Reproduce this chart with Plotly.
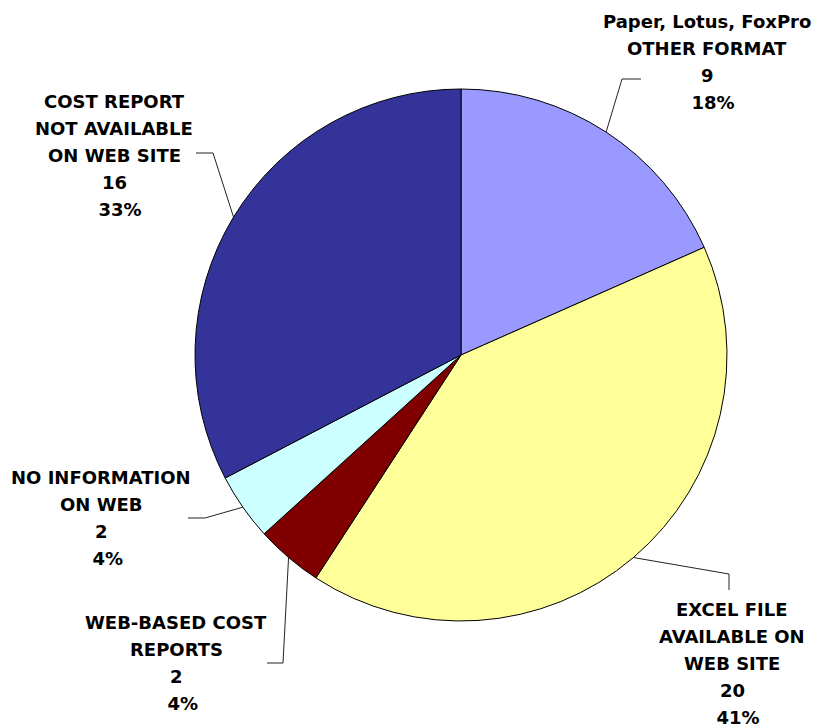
import math
import plotly.graph_objects as go

# ---- data ----
categories = ["Paper, Lotus, FoxPro\nOTHER FORMAT", "EXCEL FILE\nAVAILABLE ON\nWEB SITE",
              "WEB-BASED COST\nREPORTS", "NO INFORMATION\nON WEB",
              "COST REPORT\nNOT AVAILABLE\nON WEB SITE"]
values = [9, 20, 2, 2, 16]
colors = ["#9999FF", "#FFFF99", "#800000", "#CCFFFF", "#333399"]

# ---- layout constants (pixels) ----
W, H = 819, 727
CX, CY, R = 461, 355, 266
def px(x): return x / W
def py(y): return 1 - y / H

# label placement: (center x, first line y), leader elbow & end points
label_pos = [(707, 21), (732, 609), (176, 622), (101, 477), (114, 101)]
leader = [[(622, 79), (641, 79)],
          [(729, 574), (729, 590)],
          [(283, 663), (267, 663)],
          [(205, 518), (188, 518)],
          [(213, 153), (196, 153)]]
LINE_H = 27.2

fig = go.Figure(go.Pie(
    values=values, labels=[c.replace("\n", " ") for c in categories],
    marker=dict(colors=colors, line=dict(color="#000000", width=1)),
    sort=False, direction="clockwise", rotation=0,
    textinfo="none", hoverinfo="label+value+percent",
    domain=dict(x=[px(CX - R), px(CX + R)], y=[py(CY + R), py(CY - R)]),
    showlegend=False,
))

total = sum(values)
cum = 0
annotations = []
shapes = []
for i, v in enumerate(values):
    mid = (cum + v / 2) / total * 2 * math.pi
    cum += v
    ex, ey = CX + R * math.sin(mid), CY - R * math.cos(mid)
    pts = [(ex, ey)] + leader[i]
    path = "M " + " L ".join(f"{px(x)},{py(y)}" for x, y in pts)
    shapes.append(dict(type="path", xref="paper", yref="paper", path=path,
                       line=dict(color="#222222", width=1)))
    pct = round(v / total * 100)
    lines = categories[i].split("\n") + [str(v), f"\u00a0\u00a0{pct}%"]
    lx, ly = label_pos[i]
    for j, t in enumerate(lines):
        annotations.append(dict(
            x=px(lx), y=py(ly + j * LINE_H), xref="paper", yref="paper",
            text=f"<b>{t}</b>", showarrow=False, xanchor="center", yanchor="middle",
            font=dict(family="DejaVu Sans, Verdana, sans-serif", size=18, color="#000000"),
        ))

fig.update_layout(
    width=W, height=H, margin=dict(l=0, r=0, t=0, b=0),
    paper_bgcolor="#FFFFFF", plot_bgcolor="#FFFFFF",
    annotations=annotations, shapes=shapes,
)
fig.write_html("out.html")
